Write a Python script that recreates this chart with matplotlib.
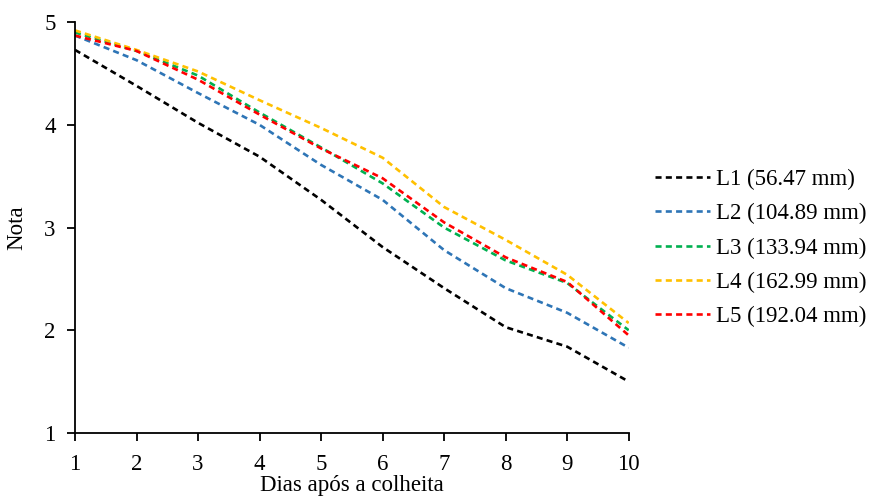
import matplotlib.pyplot as plt

plt.rcParams['font.family'] = ['Liberation Serif', 'DejaVu Serif']

dias = [1, 2, 3, 4, 5, 6, 7, 8, 9, 10]

l1 = [4.73, 4.38, 4.02, 3.69, 3.27, 2.81, 2.41, 2.03, 1.84, 1.50]
l2 = [4.87, 4.63, 4.31, 4.00, 3.61, 3.27, 2.78, 2.41, 2.17, 1.83]
l3 = [4.90, 4.72, 4.48, 4.12, 3.78, 3.43, 3.00, 2.68, 2.46, 2.00]
l4 = [4.92, 4.73, 4.52, 4.24, 3.97, 3.68, 3.20, 2.88, 2.54, 2.07]
l5 = [4.87, 4.72, 4.44, 4.10, 3.77, 3.48, 3.05, 2.71, 2.47, 1.95]

nomes = ["L1 (56.47 mm)", "L2 (104.89 mm)", "L3 (133.94 mm)",
         "L4 (162.99 mm)", "L5 (192.04 mm)"]
cores = ["#000000", "#2E75B6", "#00B050", "#FFC000", "#FF0000"]

fs = 16.5

fig = plt.figure(figsize=(8.72, 5.04), dpi=100)
ax = fig.add_axes([0.086, 0.141, 0.635, 0.815])

for serie, nome, cor in zip([l1, l2, l3, l4, l5], nomes, cores):
    ax.plot(dias, serie, color=cor, lw=1.9, linestyle=(0, (2.3, 1.6)),
            label=nome)

ax.set_xlim(1, 10)
ax.set_ylim(1, 5)
ax.set_xticks(dias)
ax.set_yticks([1, 2, 3, 4, 5])
ax.spines['top'].set_visible(False)
ax.spines['right'].set_visible(False)
ax.spines['left'].set_linewidth(1.3)
ax.spines['bottom'].set_linewidth(1.3)
ax.tick_params(direction='out', length=6, width=1.3, labelsize=fs)
ax.tick_params(axis='y', pad=8)
ax.tick_params(axis='x', pad=9)
ax.set_xlabel("Dias após a colheita", fontsize=fs, labelpad=0)
ax.set_ylabel("Nota", fontsize=fs)
ax.yaxis.set_label_coords(-0.087, 0.5)

fig.legend(loc='center left', bbox_to_anchor=(0.727, 0.508), frameon=False,
           fontsize=fs, handlelength=2.4, handletextpad=0.3, labelspacing=0.58)

fig.savefig("out.png", dpi=100)
